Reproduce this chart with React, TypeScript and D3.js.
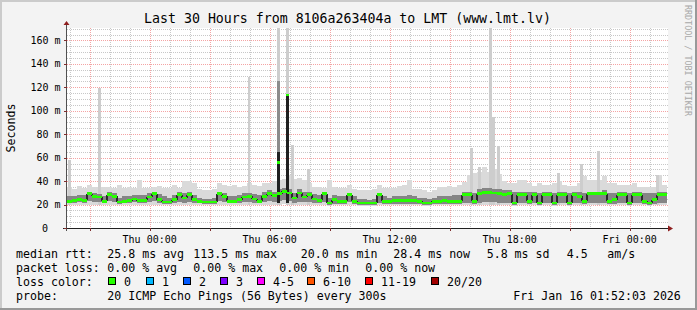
import React from 'react';
import * as d3 from 'd3';

const W = 697;
const H = 310;

const startTime = new Date(2026, 0, 14, 19, 52, 3);
const endTime = new Date(2026, 0, 16, 1, 52, 3);
const stepMinutes = 15;

// median rtt (ms), one value per 15 minutes
const median = [
  22.7, 23.6, 24.2, 23.6, 29.3, 27, 26.5, 22.7, 28.4, 27, 22, 22.7, 23.3, 24.7, 23.3, 23.6, 26.5, 29.3, 24.2, 22, 22, 24.2, 28.4, 25.6,
  28.4, 24.2, 22.7, 22, 22, 22, 29.3, 27, 22.7, 22.7, 24.2, 26.5, 27, 24.7, 22.7, 27, 29.3, 27.6, 29.3, 31.2, 29.8, 25.6, 29.8, 26.5,
  28.4, 24.7, 23.6, 29.3, 21.3, 24.2, 22.7, 22.7, 28.4, 22.7, 21.3, 21.3, 21.3, 21.3, 28.4, 22.7, 22.7, 23.3, 23.3, 23.3, 23.6, 23.6, 22.7, 21.3,
  21.3, 22.7, 22.7, 23.3, 22.7, 22.7, 22.7, 28.4, 28.4, 22.7, 29.3, 30.4, 30.4, 29.8, 29.3, 28.4, 29.3, 21.3, 28.4, 28.4, 22.7, 28.4, 21.3, 28.4,
  28.4, 21.3, 28.4, 28.4, 21.3, 28.4, 27, 22.7, 29.3, 29.3, 29.3, 29.3, 22.7, 24.2, 28.4, 28.4, 21.3, 28.4, 28.4, 22.7, 21.3, 24.2, 28.4, 28.4,
];

// smoke: lowest ping (ms)
const smokeMin = [
  19.5, 19.5, 19.8, 19.5, 20, 20, 19.5, 19.5, 20, 19.8, 19.3, 19.5, 19.5, 19.8, 19.5, 19.5, 20, 20, 19.5, 19.3, 19.3, 19.5, 20, 19.5,
  20, 19.5, 19.5, 19.3, 19.3, 19.3, 20, 19.8, 19.5, 19.5, 19.5, 19.8, 20, 19.5, 19.3, 19.8, 20, 19.8, 20, 20.5, 20, 19.5, 20, 19.8,
  20, 19.5, 19.5, 19.8, 19, 19.3, 19.3, 19.3, 19.8, 19.3, 19, 19, 19, 19, 19.5, 19.3, 19.3, 19.3, 19.3, 19.3, 19.3, 19.3, 19.3, 19,
  19, 19.3, 19.3, 19.3, 19.3, 19.3, 19.3, 19.5, 19.5, 19.3, 19.5, 19.5, 19.5, 19.5, 19.5, 19.5, 19.5, 19, 19.5, 19.5, 19.3, 19.5, 19, 19.5,
  19.5, 19, 19.5, 19.5, 19, 19.5, 19.5, 19.3, 19.5, 19.5, 19.5, 19.5, 19.3, 19.3, 19.5, 19.5, 19, 19.5, 19.5, 19.3, 19, 19.3, 19.5, 19.5,
];

// smoke: lower edge of the dense core (ms)
const smokeLo = [
  21, 21.5, 22, 21.5, 23, 22.5, 22, 21, 23, 22, 20.5, 21, 21, 22, 21, 21, 22, 23, 21, 20.5, 20.5, 21, 22, 21.5,
  22, 21, 21, 20.5, 20.5, 20.5, 23, 22, 21, 21, 21, 22, 22, 21, 21, 22, 23, 22, 23, 24, 23, 21, 22.5, 22,
  22, 21, 21, 22, 20, 20.5, 20.5, 20.5, 22, 20.5, 20, 20, 20, 20, 21, 20.5, 20.5, 20.5, 20.5, 20.5, 20.5, 20.5, 20.5, 20,
  20, 20.5, 20.5, 20.5, 20.5, 20.5, 20.5, 21, 21, 20.5, 21, 22, 22, 22, 21.5, 21, 21, 20, 21, 21, 20.5, 21, 20, 21,
  21, 20, 21, 21, 20, 21, 21, 20.5, 21, 21, 21, 21.5, 20.5, 20.5, 21, 21, 20, 21, 21, 20.5, 20, 20.5, 21, 21,
];

// smoke: upper edge of the dense core (ms)
const smokeHi = [
  27, 27, 28, 28, 31, 30, 29, 27, 31, 30, 26, 27, 27, 28, 28, 28, 30, 31, 29, 27, 26, 28, 31, 30,
  31, 28, 26, 25, 25, 26, 31, 30, 27, 27, 28, 30, 30, 29, 28, 31, 32, 31, 33, 34, 33, 30, 33, 31,
  31, 29, 28, 31, 26, 28, 27, 27, 30, 27, 25, 25, 24, 25, 30, 27, 26, 27, 27, 27, 28, 27, 26, 26,
  25, 26, 27, 27, 27, 28, 28, 31, 31, 30, 33, 34, 34, 33, 33, 32, 32, 31, 31, 31, 31, 31, 30, 31,
  31, 30, 31, 31, 30, 31, 31, 30, 31, 31, 31, 32, 30, 30, 31, 31, 30, 31, 31, 30, 30, 30, 31, 31,
];

// smoke: highest ping (ms)
const smokeMax = [
  35, 33, 36, 34, 37, 35, 35, 35, 35, 34, 37, 34, 35, 34, 41, 34, 34, 35, 36, 34, 34, 37, 34, 40,
  40, 38, 33, 32, 32, 33, 38, 37, 36, 37, 35, 36, 38, 37, 36, 38, 38, 40, 41, 42, 45, 42, 43, 41,
  38, 35, 35, 34, 41, 35, 34, 34, 37, 33, 32, 32, 32, 33, 37, 34, 34, 34, 36, 37, 41, 33, 33, 32,
  31, 32, 35, 35, 36, 35, 37, 39, 45, 47, 48, 52, 48, 50, 46, 40, 38, 38, 41, 41, 38, 36, 38, 37,
  37, 38, 40, 37, 36, 36, 38, 44, 41, 41, 41, 44, 38, 38, 37, 37, 37, 38, 35, 35, 35, 35, 45, 37,
];

// narrow outliers
const spikeTimes = [
  '2026-01-14 19:55', '2026-01-14 21:25', '2026-01-15 04:54', '2026-01-15 06:22', '2026-01-15 06:49',
  '2026-01-15 07:04', '2026-01-15 07:52', '2026-01-15 16:01', '2026-01-15 16:25', '2026-01-15 16:58',
  '2026-01-15 17:07', '2026-01-15 17:22', '2026-01-15 20:22', '2026-01-15 21:31', '2026-01-15 22:22',
  '2026-01-16 01:19',
];
const spikeTop = [58, 119, 129, 180, 180, 71, 50, 68, 52, 180, 95, 70, 47, 55, 66, 45];
const spikeMid = [0, 0, 0, 125, 113.7, 0, 0, 0, 0, 0, 0, 0, 0, 0, 0, 0];
const spikeDark = [0, 0, 0, 65, 113.7, 0, 0, 0, 0, 0, 0, 0, 0, 0, 0, 0];
const spikeMedian = [0, 0, 0, 56, 113.5, 0, 0, 0, 0, 0, 0, 0, 0, 0, 0, 0];

const yTicks = [0, 20, 40, 60, 80, 100, 120, 140, 160];
const yTickLabels = ['0', '20 m', '40 m', '60 m', '80 m', '100 m', '120 m', '140 m', '160 m'];

const lossLabels = ['0', '1', '2', '3', '4-5', '6-10', '11-19', '20/20'];
const lossColors = ['#26ff00', '#00b8ff', '#0059ff', '#7e00ff', '#ff00ff', '#ff5500', '#ff0000', '#a10000'];
const lossBoxX = [108, 146, 183, 220, 257, 307, 365, 431];

const rttLabels = ['25.8 ms avg', '113.5 ms max', '20.0 ms min', '28.4 ms now', '5.8 ms sd', '4.5', 'am/s'];
const rttX = [107.3, 193.3, 300.7, 393.3, 486.7, 566.7, 607.3];
const lossTexts = ['0.00 % avg', '0.00 % max', '0.00 % min', '0.00 % now'];
const lossTextX = [107.3, 193.3, 279.3, 365.3];

const MONO = "'DejaVu Sans Mono', 'Liberation Mono', monospace";

export default function App() {
  const left = 67, right = 667, top = 28, bottom = 228;
  const x = d3.scaleTime().domain([startTime, endTime]).range([left, right]);
  const y = d3.scaleLinear().domain([0, 170.6]).range([bottom, top]);
  const parse = d3.timeParse('%Y-%m-%d %H:%M');

  const steps = median.map((m, i) => {
    const t0 = d3.timeMinute.offset(startTime, i * stepMinutes);
    const t1 = d3.timeMinute.offset(startTime, (i + 1) * stepMinutes);
    return { x0: x(t0), x1: Math.min(x(t1), right), m, mn: smokeMin[i], lo: smokeLo[i], hi: smokeHi[i], mx: smokeMax[i] };
  });

  const spikes = spikeTimes.map((s, i) => {
    const t = parse(s) as Date;
    return { x0: x(t), x1: x(d3.timeMinute.offset(t, 8)), top: spikeTop[i], mid: spikeMid[i], dark: spikeDark[i], med: spikeMedian[i] };
  });

  const hoursMinor = d3.timeHour.every(1)!.range(startTime, endTime);
  const hoursMajor = hoursMinor.filter((d) => d.getHours() % 3 === 0);
  const labelTimes = hoursMinor.filter((d) => d.getHours() % 6 === 0);
  const fmt = d3.timeFormat('%a %H:%M');

  const minorY = d3.range(5, 171, 5).filter((v) => v % 20 !== 0);
  const majorY = d3.range(20, 171, 20);

  const gridMinor = '#c8c8c8';
  const gridMajor = '#f4a4a4';

  return (
    <svg width={W} height={H} viewBox={`0 0 ${W} ${H}`} style={{ position: 'absolute', left: 0, top: 0, display: 'block' }}>
      <defs>
        <clipPath id="plotclip">
          <rect x={left} y={top} width={right - left + 1} height={bottom - top} />
        </clipPath>
      </defs>
      <rect x={0} y={0} width={W} height={H} fill="#f3f3f3" />
      <rect x={0} y={0} width={W} height={2} fill="#cbcbcb" />
      <rect x={0} y={0} width={2} height={H} fill="#cbcbcb" />
      <rect x={0} y={H - 2} width={W} height={2} fill="#999999" />
      <rect x={W - 2} y={0} width={2} height={H} fill="#999999" />

      <rect x={left} y={top} width={right - left + 1} height={bottom - top} fill="#ffffff" />

      <g shapeRendering="crispEdges" strokeWidth={1} strokeDasharray="1,1">
        {minorY.map((v) => (
          <line key={'my' + v} x1={left} x2={right + 1} y1={Math.round(y(v)) + 0.5} y2={Math.round(y(v)) + 0.5} stroke={gridMinor} />
        ))}
        {hoursMinor.filter((d) => d.getHours() % 3 !== 0).map((d) => (
          <line key={'mx' + d.getTime()} x1={Math.round(x(d)) + 0.5} x2={Math.round(x(d)) + 0.5} y1={top} y2={bottom} stroke={gridMinor} />
        ))}
        {majorY.map((v) => (
          <line key={'My' + v} x1={left} x2={right + 1} y1={Math.round(y(v)) + 0.5} y2={Math.round(y(v)) + 0.5} stroke={gridMajor} />
        ))}
        {hoursMajor.map((d) => (
          <line key={'Mx' + d.getTime()} x1={Math.round(x(d)) + 0.5} x2={Math.round(x(d)) + 0.5} y1={top} y2={bottom} stroke={gridMajor} />
        ))}
      </g>

      <g clipPath="url(#plotclip)" shapeRendering="crispEdges">
        {steps.map((s, i) => (
          <rect key={'l' + i} x={s.x0} width={s.x1 - s.x0} y={y(s.mx)} height={y(s.mn) - y(s.mx)} fill="#dadada" />
        ))}
        {spikes.map((s, i) => (
          <rect key={'sl' + i} x={s.x0} width={s.x1 - s.x0} y={y(s.top)} height={y(20) - y(s.top)} fill="#cdcdcd" />
        ))}
        {spikes.filter((s) => s.mid > 0).map((s, i) => (
          <rect key={'sm' + i} x={s.x0} width={s.x1 - s.x0} y={y(s.mid)} height={y(21) - y(s.mid)} fill="#8c8c8c" />
        ))}
        {steps.map((s, i) => (
          <rect key={'d' + i} x={s.x0} width={s.x1 - s.x0} y={y(s.hi)} height={y(s.lo) - y(s.hi)} fill="#858585" />
        ))}
        {spikes.filter((s) => s.dark > 0).map((s, i) => (
          <rect key={'sd' + i} x={s.x0} width={s.x1 - s.x0} y={y(s.dark)} height={y(21) - y(s.dark)} fill="#202020" />
        ))}
        {steps.slice(1).map((s, i) => {
          const prev = steps[i];
          const a = Math.min(prev.m, s.m);
          const b = Math.max(prev.m, s.m);
          return (
            <rect key={'c' + i} x={s.x0 - 1} width={2} y={y(b)} height={y(a) - y(b)} fill="#2a2a2a" />
          );
        })}
        {steps.map((s, i) => (
          <rect key={'g' + i} x={s.x0} width={s.x1 - s.x0} y={y(s.m) - 1.25} height={2.5} fill={lossColors[0]} />
        ))}
        {spikes.filter((s) => s.med > 0).map((s, i) => (
          <rect key={'sg' + i} x={s.x0} width={s.x1 - s.x0} y={y(s.med) - 1.25} height={2.5} fill={lossColors[0]} />
        ))}
      </g>

      {/* axes */}
      <line x1={left - 0.5} x2={left - 0.5} y1={bottom + 3} y2={top - 4} stroke="#505050" strokeWidth={1} />
      <line x1={left - 4} x2={right + 4} y1={bottom + 0.5} y2={bottom + 0.5} stroke="#202020" strokeWidth={1} />
      <path d={`M${left - 3.5},${top - 3} L${left + 2.5},${top - 3} L${left - 0.5},${top - 7} Z`} fill="#8f1f1f" />
      <path d={`M${right + 1},${bottom - 2.5} L${right + 1},${bottom + 3.5} L${right + 6},${bottom + 0.5} Z`} fill="#8f1f1f" />
      {hoursMajor.map((d) => (
        <line key={'tk' + d.getTime()} x1={Math.round(x(d)) + 0.5} x2={Math.round(x(d)) + 0.5} y1={bottom} y2={bottom + 3} stroke="#7f2f2f" />
      ))}
      {yTicks.map((v) => (
        <line key={'yt' + v} x1={left - 3} x2={left} y1={Math.round(y(v)) + 0.5} y2={Math.round(y(v)) + 0.5} stroke="#7f2f2f" />
      ))}

      <g fontFamily={MONO} fontSize={10} fill="#000">
        {yTicks.map((v, i) => (
          <text key={'yl' + v} x={v === 0 ? 45 : 60.5} y={y(v) + 3.6} textAnchor={v === 0 ? 'middle' : 'end'}>
            {yTickLabels[i]}
          </text>
        ))}
        {labelTimes.map((d) => (
          <text key={'xl' + d.getTime()} x={x(d)} y={243} textAnchor="middle">
            {fmt(d)}
          </text>
        ))}
      </g>

      <text x={347.5} y={23} textAnchor="middle" fontFamily={MONO} fontSize={13.25} fill="#000">
        Last 30 Hours from 8106a263404a to LMT (www.lmt.lv)
      </text>
      <text transform="translate(15,128) rotate(-90)" textAnchor="middle" fontFamily={MONO} fontSize={11.6} fill="#000">
        Seconds
      </text>
      <text transform="translate(685,5) rotate(90)" fontFamily={MONO} fontSize={8.4} fill="#a8a8a8">
        RRDTOOL / TOBI OETIKER
      </text>

      <g fontFamily={MONO} fontSize={11.6} fill="#000" style={{ whiteSpace: 'pre' }}>
        <text x={16} y={257.5}>median rtt:</text>
        {rttLabels.map((s, i) => (
          <text key={'r' + i} x={rttX[i]} y={257.5}>{s}</text>
        ))}
        <text x={16} y={271.5}>packet loss:</text>
        {lossTexts.map((s, i) => (
          <text key={'p' + i} x={lossTextX[i]} y={271.5}>{s}</text>
        ))}
        <text x={16} y={285.5}>loss color:</text>
        {lossLabels.map((s, i) => (
          <g key={'lc' + i}>
            <rect x={lossBoxX[i] + 0.5} y={277.5} width={7} height={7} fill={lossColors[i]} stroke="#000" strokeWidth={1} />
            <text x={lossBoxX[i] + 16} y={285.5}>{s}</text>
          </g>
        ))}
        <text x={16} y={299.5}>probe:</text>
        <text x={107.3} y={299.5}>20 ICMP Echo Pings (56 Bytes) every 300s</text>
        <text x={513.3} y={299.5}>Fri Jan 16 01:52:03 2026</text>
      </g>
    </svg>
  );
}
